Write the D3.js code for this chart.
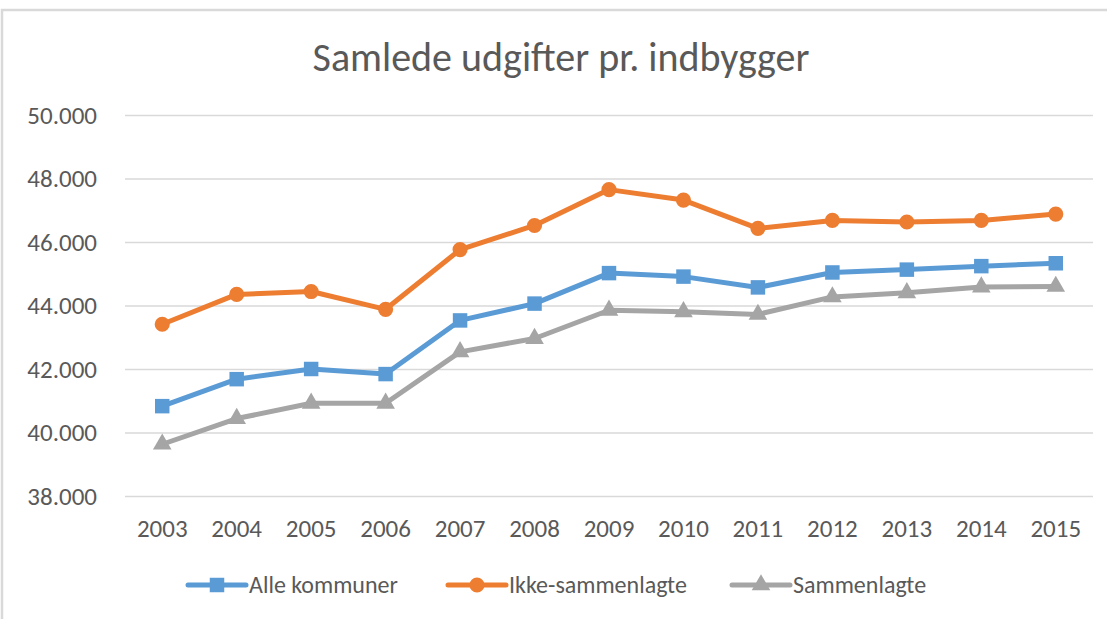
<!DOCTYPE html>
<html>
<head>
<meta charset="utf-8">
<script src="https://cdn.jsdelivr.net/npm/d3@7"></script>
<style>
  body { margin: 0; background: #fff; }
  svg { display: block; font-family: Carlito, "Open Sans", sans-serif; }
</style>
</head>
<body>
<svg width="1107" height="619"></svg>
<script>
// data
var years = ["2003","2004","2005","2006","2007","2008","2009","2010","2011","2012","2013","2014","2015"];
var alleKommuner     = [40830, 41680, 42000, 41840, 43530, 44060, 45020, 44910, 44570, 45040, 45130, 45240, 45330];
var ikkeSammenlagte  = [43410, 44350, 44440, 43880, 45760, 46520, 47650, 47320, 46430, 46680, 46630, 46680, 46880];
var sammenlagte      = [39630, 40440, 40920, 40920, 42540, 42960, 43850, 43800, 43720, 44270, 44400, 44580, 44600];
var yTicks = [38000, 40000, 42000, 44000, 46000, 48000, 50000];

var series = [
  { name: "Alle kommuner",    values: alleKommuner,    color: "#5B9BD5", marker: "square" },
  { name: "Ikke-sammenlagte", values: ikkeSammenlagte, color: "#ED7D31", marker: "circle" },
  { name: "Sammenlagte",      values: sammenlagte,     color: "#A5A5A5", marker: "triangle" }
];

var svg = d3.select("svg");
var textColor = "#595959";

// chart frame (only top and left edge show in the crop)
svg.append("path")
   .attr("d", "M2,640 L2,10 L1120,10")
   .attr("fill", "none")
   .attr("stroke", "#D9D9D9")
   .attr("stroke-width", 2.5);

var plotLeft = 125, plotRight = 1093, plotTop = 115, plotBottom = 496;

var x = d3.scaleBand().domain(years).range([plotLeft, plotRight]);
var y = d3.scaleLinear().domain([38000, 50000]).range([plotBottom, plotTop]);

// title
svg.append("text")
   .attr("x", 561)
   .attr("y", 71)
   .attr("text-anchor", "middle")
   .attr("font-size", 40)
   .attr("fill", textColor)
   .text("Samlede udgifter pr. indbygger");

// gridlines + y labels
var fmt = function(v) { return d3.format(",")(v).replace(/,/g, "."); };

var yAxis = svg.append("g")
   .attr("transform", "translate(" + plotLeft + ",0)")
   .call(d3.axisLeft(y).tickValues(yTicks).tickSize(-(plotRight - plotLeft)).tickPadding(28).tickFormat(fmt))
   .attr("font-family", null)
   .attr("font-size", null);
yAxis.select(".domain").remove();
yAxis.selectAll(".tick line").attr("stroke", "#D9D9D9").attr("stroke-width", 1.5);
yAxis.selectAll(".tick text")
   .attr("fill", textColor)
   .attr("font-size", 25);

// x labels
var xAxis = svg.append("g")
   .attr("transform", "translate(0," + plotBottom + ")")
   .call(d3.axisBottom(x).tickSize(0).tickPadding(23))
   .attr("font-family", null)
   .attr("font-size", null);
xAxis.select(".domain").remove();
xAxis.selectAll(".tick text")
   .attr("fill", textColor)
   .attr("font-size", 25);

var cx = function(i) { return x(years[i]) + x.bandwidth() / 2; };

var line = d3.line()
   .x(function(d, i) { return cx(i); })
   .y(function(d) { return y(d); });

var symbolFor = {
  square:   d3.symbol().type(d3.symbolSquare).size(210),
  circle:   d3.symbol().type(d3.symbolCircle).size(180),
  triangle: d3.symbol().type(d3.symbolTriangle).size(150)
};

series.forEach(function(s) {
  var g = svg.append("g");
  g.append("path")
   .datum(s.values)
   .attr("d", line)
   .attr("fill", "none")
   .attr("stroke", s.color)
   .attr("stroke-width", 5)
   .attr("stroke-linejoin", "round")
   .attr("stroke-linecap", "round");

  g.selectAll("path.pt")
   .data(s.values)
   .enter()
   .append("path")
   .attr("class", "pt")
   .attr("d", symbolFor[s.marker])
   .attr("transform", function(d, i) {
       return "translate(" + cx(i) + "," + y(d) + ")";
   })
   .attr("fill", s.color);
});

// legend
var legendX = [188, 448, 732];
var legendY = 585;
var legend = svg.selectAll(".legend")
   .data(series)
   .enter()
   .append("g")
   .attr("class", "legend")
   .attr("transform", function(d, i) { return "translate(" + legendX[i] + "," + legendY + ")"; });

legend.append("line")
   .attr("x1", 0).attr("x2", 58)
   .attr("stroke", function(d) { return d.color; })
   .attr("stroke-width", 5)
   .attr("stroke-linecap", "round");

legend.append("path")
   .attr("d", function(d) { return symbolFor[d.marker](); })
   .attr("transform", "translate(29,0)")
   .attr("fill", function(d) { return d.color; });

legend.append("text")
   .attr("x", 61)
   .attr("dy", "0.35em")
   .attr("font-size", 24)
   .attr("fill", textColor)
   .text(function(d) { return d.name; });
</script>
</body>
</html>
